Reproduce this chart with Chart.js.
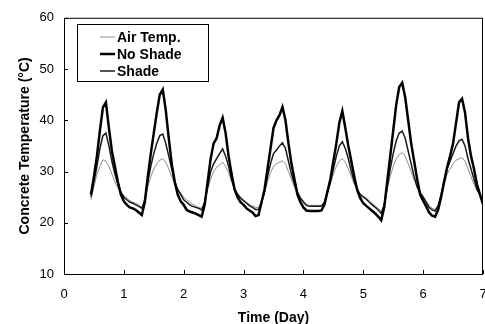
<!DOCTYPE html>
<html>
<head>
<meta charset="utf-8">
<script src="https://cdn.jsdelivr.net/npm/chart.js@4/dist/chart.umd.min.js"></script>
<style>
  html, body { margin: 0; padding: 0; background: #fff; overflow: hidden; }
  #wrap { width: 485px; height: 324px; position: relative; }
  canvas { display: block; }
</style>
</head>
<body>
<div id="wrap"><canvas id="tempChart"></canvas></div>
<script>
// time in days, every 0.05 day
const times = [
  0.45, 0.50, 0.55, 0.60, 0.65, 0.70, 0.75, 0.80, 0.85, 0.90, 0.95,
  1.00, 1.05, 1.10, 1.15, 1.20, 1.25, 1.30, 1.35, 1.40, 1.45, 1.50, 1.55, 1.60, 1.65, 1.70, 1.75, 1.80, 1.85, 1.90, 1.95,
  2.00, 2.05, 2.10, 2.15, 2.20, 2.25, 2.30, 2.35, 2.40, 2.45, 2.50, 2.55, 2.60, 2.65, 2.70, 2.75, 2.80, 2.85, 2.90, 2.95,
  3.00, 3.05, 3.10, 3.15, 3.20, 3.25, 3.30, 3.35, 3.40, 3.45, 3.50, 3.55, 3.60, 3.65, 3.70, 3.75, 3.80, 3.85, 3.90, 3.95,
  4.00, 4.05, 4.10, 4.15, 4.20, 4.25, 4.30, 4.35, 4.40, 4.45, 4.50, 4.55, 4.60, 4.65, 4.70, 4.75, 4.80, 4.85, 4.90, 4.95,
  5.00, 5.05, 5.10, 5.15, 5.20, 5.25, 5.30, 5.35, 5.40, 5.45, 5.50, 5.55, 5.60, 5.65, 5.70, 5.75, 5.80, 5.85, 5.90, 5.95,
  6.00, 6.05, 6.10, 6.15, 6.20, 6.25, 6.30, 6.35, 6.40, 6.45, 6.50, 6.55, 6.60, 6.65, 6.70, 6.75, 6.80, 6.85, 6.90, 6.95,
  7.00
];

const airTemp = [
  24.5, 27, 29.5, 31, 32.3, 32, 31, 29.5, 28, 26.8, 26,
  25.3, 24.8, 24.3, 24, 23.8, 23.5, 23, 24.3, 27, 29, 30.5, 31.5, 32.2, 32.5, 31.8, 30.5, 29, 27.5, 26.5, 25.8,
  25, 24.5, 24, 23.6, 23.3, 23, 22.8, 24, 26.5, 28.5, 30, 30.8, 31.3, 31.8, 31, 29.8, 28, 26.8, 25.8, 25,
  24.5, 24, 23.6, 23.3, 23, 23, 24, 25.8, 28, 29.8, 31, 31.5, 31.8, 32.1, 31.5, 30, 28.5, 27, 25.8, 25,
  24.3, 23.6, 23.4, 23.4, 23.4, 23.4, 23.4, 24, 25.8, 27.5, 29.5, 31, 32, 32.5, 31.8, 30.5, 29, 27.5, 26.3, 25.6,
  25.2, 24.8, 24.3, 23.8, 23.3, 22.8, 22.2, 23.5, 26.5, 29, 31, 32.5, 33.3, 33.7, 33, 31.5, 30, 28.3, 27, 26,
  25.2, 24.3, 23.4, 22.8, 22.6, 23.4, 25.2, 27.3, 29.5, 30.5, 31.5, 32.2, 32.5, 32.7, 32, 30.5, 29, 27.5, 26.3, 25.3,
  24.3
];

const noShade = [
  25.5, 29, 33, 38, 42.5, 43.5, 38.5, 34, 31, 28, 25.5,
  24.2, 23.5, 23, 22.8, 22.5, 22, 21.5, 24, 29, 33.5, 37.5, 41.5, 45, 46, 42, 36.5, 31.5, 28, 25.5, 24.2,
  23.5, 22.5, 22.2, 22, 21.8, 21.5, 21.2, 23.5, 28, 32.5, 35.5, 36.5, 39, 40.5, 37.5, 33, 29.5, 26.5, 25, 24,
  23.5, 22.8, 22.4, 22, 21.3, 21.5, 24, 26.5, 30.5, 34.5, 38.5, 40, 41, 42.6, 40, 35.5, 31.5, 28.5, 25.5, 24,
  23, 22.4, 22.3, 22.3, 22.3, 22.3, 22.4, 23.5, 26, 28.5, 32, 35.5, 39.5, 41.8, 38.5, 35, 32, 29, 26.3, 24.8,
  23.8, 23.3, 22.8, 22.3, 21.8, 21.2, 20.5, 23, 28, 33, 38, 43, 46.5, 47.3, 44.5, 40, 35.5, 32, 28.5, 25.5,
  24.3, 23.2, 22, 21.4, 21.2, 22.5, 25, 28, 30.8, 33, 35.5, 39.5, 43.5, 44.2, 41.5, 36.5, 33, 30.5, 27.5, 25.5,
  23.6
];

const shade = [
  25, 28, 31, 34.5, 37, 37.5, 35, 32, 29.5, 27.5, 26,
  25, 24.5, 24, 23.8, 23.5, 23.2, 22.8, 24.5, 28, 31, 33.5, 35.5, 37, 37.3, 35.5, 33, 30.5, 28, 26.5, 25.5,
  24.5, 24, 23.5, 23.2, 23, 22.8, 22.5, 24, 27, 30, 31.5, 32.5, 33.5, 34.4, 33, 31, 28.5, 26.5, 25.5, 24.8,
  24.3, 23.8, 23.3, 23, 22.6, 22.6, 24, 26, 29, 31.5, 33.5, 34.2, 35, 35.6, 34.5, 32, 29.5, 27.5, 26, 24.8,
  24, 23.4, 23.2, 23.2, 23.2, 23.2, 23.2, 24, 26, 28, 30.5, 33, 35, 35.8, 34.5, 32.5, 30, 28, 26.5, 25.5,
  25, 24.6, 24, 23.5, 23, 22.5, 21.8, 23.5, 27, 30.5, 33.5, 36, 37.5, 37.9, 36.5, 34, 31.5, 29, 27, 25.8,
  25, 24, 23, 22.5, 22.3, 23.3, 25.5, 28, 30.5, 32, 33.5, 35, 36, 36.3, 35, 32.5, 30.5, 28.5, 26.5, 25.5,
  24.5
];

const seriesNames = ['Air Temp.', 'No Shade', 'Shade'];
const xTicks = [0, 1, 2, 3, 4, 5, 6, 7];
const yTicks = [10, 20, 30, 40, 50, 60];

function toPoints(values) {
  return values.map((v, i) => ({ x: times[i], y: v }));
}

// box round the plot, inward tick marks, legend inside the plot
const framePlugin = {
  id: 'frame',
  afterDatasetsDraw(chart) {
    const { ctx, chartArea: a, scales } = chart;
    ctx.save();
    ctx.strokeStyle = '#000';
    ctx.lineWidth = 1;
    ctx.strokeRect(a.left + 0.5, a.top + 0.5, a.right - a.left - 1, a.bottom - a.top);
    ctx.beginPath();
    xTicks.forEach(t => {
      const px = Math.round(scales.x.getPixelForValue(t)) + 0.5;
      ctx.moveTo(px, a.bottom);
      ctx.lineTo(px, a.bottom - 4);
    });
    yTicks.forEach(t => {
      const py = Math.round(scales.y.getPixelForValue(t)) + 0.5;
      ctx.moveTo(a.left, py);
      ctx.lineTo(a.left + 4, py);
    });
    ctx.stroke();

    // legend
    ctx.fillStyle = '#fff';
    ctx.fillRect(78, 25, 130, 56);
    ctx.strokeRect(77.5, 24.5, 131, 57);
    ctx.font = 'bold 14px "Liberation Sans", Arial, sans-serif';
    ctx.textBaseline = 'middle';
    chart.data.datasets.forEach((ds, i) => {
      const y = 37 + i * 17;
      ctx.beginPath();
      ctx.strokeStyle = ds.borderColor;
      ctx.lineWidth = ds.borderWidth;
      ctx.moveTo(100, y);
      ctx.lineTo(115, y);
      ctx.stroke();
      ctx.fillStyle = '#000';
      ctx.fillText(ds.label, 117, y + 1);
    });
    ctx.restore();
  }
};

const ctx = document.getElementById('tempChart');

new Chart(ctx, {
  type: 'line',
  data: {
    datasets: [{
      label: seriesNames[0],
      data: toPoints(airTemp),
      borderColor: '#8c8c8c',
      borderWidth: 1,
      pointRadius: 0,
      tension: 0,
      order: 3
    }, {
      label: seriesNames[1],
      data: toPoints(noShade),
      borderColor: '#000',
      borderWidth: 2.5,
      pointRadius: 0,
      tension: 0,
      order: 1
    }, {
      label: seriesNames[2],
      data: toPoints(shade),
      borderColor: '#1a1a1a',
      borderWidth: 1.5,
      pointRadius: 0,
      tension: 0,
      order: 2
    }]
  },
  options: {
    responsive: true,
    maintainAspectRatio: false,
    animation: false,
    layout: { padding: { top: 16, right: 2, left: 0, bottom: 0 } },
    plugins: {
      legend: { display: false },
      tooltip: { enabled: false }
    },
    scales: {
      x: {
        type: 'linear',
        min: 0,
        max: 7,
        afterFit: s => { s.height = 50; s.paddingLeft = 0; s.paddingRight = 0; },
        afterBuildTicks: s => { s.ticks = xTicks.map(v => ({ value: v })); },
        grid: { display: false, drawTicks: false },
        border: { display: false },
        ticks: {
          padding: 13,
          color: '#000',
          font: { family: '"Liberation Sans", Arial, sans-serif', size: 13 },
          maxRotation: 0
        },
        title: {
          display: true,
          text: 'Time (Day)',
          color: '#000',
          font: { family: '"Liberation Sans", Arial, sans-serif', size: 14, weight: 'bold', lineHeight: 1 },
          padding: { top: 0, bottom: -1 }
        }
      },
      y: {
        min: 10,
        max: 60,
        afterFit: s => { s.width = 64; },
        afterBuildTicks: s => { s.ticks = yTicks.map(v => ({ value: v })); },
        grid: { display: false, drawTicks: false },
        border: { display: false },
        ticks: {
          padding: 10,
          color: '#000',
          font: { family: '"Liberation Sans", Arial, sans-serif', size: 13 }
        },
        title: {
          display: true,
          text: 'Concrete Temperature (°C)',
          color: '#000',
          font: { family: '"Liberation Sans", Arial, sans-serif', size: 14, weight: 'bold', lineHeight: 1 },
          padding: { top: 18, bottom: 0 }
        }
      }
    }
  },
  plugins: [framePlugin]
});
</script>
</body>
</html>
